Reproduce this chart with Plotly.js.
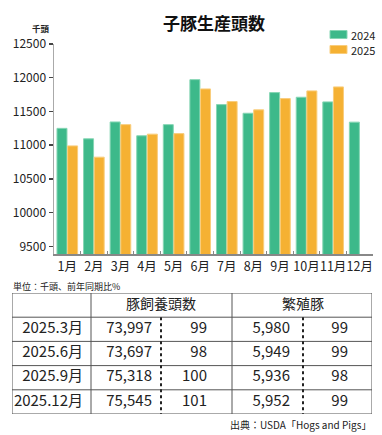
<!DOCTYPE html>
<html>
<head>
<meta charset="utf-8">
<script src="https://cdn.plot.ly/plotly-3.0.1.min.js"></script>
<style>
  html, body { margin: 0; padding: 0; background: #ffffff; }
  #chart { width: 382px; height: 435px; }
</style>
</head>
<body>
<div id="chart"></div>
<script>
// ---- Chart data ----
const months = ["1月","2月","3月","4月","5月","6月","7月","8月","9月","10月","11月","12月"];
const values2024 = [11250, 11095, 11345, 11140, 11305, 11972, 11602, 11474, 11780, 11711, 11642, 11342];
const values2025 = [10990, 10823, 11305, 11164, 11172, 11834, 11647, 11524, 11691, 11805, 11864, null];
const seriesNames = ["2024", "2025"];
const chartTitle = "子豚生産頭数";
const yUnit = "千頭";
const yTicks = [9500, 10000, 10500, 11000, 11500, 12000, 12500];

// ---- Table data ----
const tableNote = "単位：千頭、前年同期比%";
const tableHeaders = ["豚飼養頭数", "繁殖豚"];
const rowLabels = ["2025.3月", "2025.6月", "2025.9月", "2025.12月"];
const hogsTotal = ["73,997", "73,697", "75,318", "75,545"];
const hogsRatio = ["99", "98", "100", "101"];
const breedingTotal = ["5,980", "5,949", "5,936", "5,952"];
const breedingRatio = ["99", "99", "98", "99"];
const sourceNote = "出典：USDA「Hogs and Pigs」";

const FONT = '"Noto Sans CJK JP", "Noto Sans", sans-serif';
const GREEN = "#3db98a", GREEN_LINE = "#86d6b4";
const ORANGE = "#f5b133", ORANGE_LINE = "#f9cd7c";

const W = 382, H = 435;
const px = x => x / W;
const py = y => 1 - y / H;

// table geometry (x2 axis units = pixels across table; y2 = row index)
const colEdges = [0, 79, 149, 220, 291, 360];
const nRows = rowLabels.length + 1;

const traces = [
  { type: "bar", x: months, y: values2024, name: seriesNames[0],
    marker: { color: GREEN, line: { color: GREEN_LINE, width: 1 } },
    xaxis: "x", yaxis: "y", showlegend: false, hoverinfo: "skip" },
  { type: "bar", x: months, y: values2025, name: seriesNames[1],
    marker: { color: ORANGE, line: { color: ORANGE_LINE, width: 1 } },
    xaxis: "x", yaxis: "y", showlegend: false, hoverinfo: "skip" }
];

// table body text, right-aligned in each cell
const rightPad = [8, 9, 25, 13, 24];
const bx = [], by = [], bt = [];
rowLabels.forEach((lab, r) => {
  const cells = [lab, hogsTotal[r], hogsRatio[r], breedingTotal[r], breedingRatio[r]];
  cells.forEach((c, ci) => {
    bx.push(colEdges[ci + 1] - rightPad[ci]); by.push(r + 1.5); bt.push(c);
  });
});
traces.push({
  type: "scatter", mode: "text", x: bx, y: by, text: bt,
  textposition: "middle left",
  textfont: { family: FONT, size: 15, color: "#222" },
  xaxis: "x2", yaxis: "y2", showlegend: false, hoverinfo: "skip", cliponaxis: false
});
// table header text, centered across merged cells
traces.push({
  type: "scatter", mode: "text", x: [colEdges[2], colEdges[4]], y: [0.5, 0.5], text: tableHeaders,
  textposition: "middle center",
  textfont: { family: FONT, size: 14, color: "#222" },
  xaxis: "x2", yaxis: "y2", showlegend: false, hoverinfo: "skip", cliponaxis: false
});

const shapes = [];
const lineCol = "#555";
for (let r = 0; r <= nRows; r++) {
  shapes.push({ type: "line", xref: "x2", yref: "y2", x0: colEdges[0], x1: colEdges[5], y0: r, y1: r,
    line: { color: lineCol, width: 1 } });
}
[0, 1, 3, 5].forEach(ci => {
  shapes.push({ type: "line", xref: "x2", yref: "y2", x0: colEdges[ci], x1: colEdges[ci], y0: 0, y1: nRows,
    line: { color: lineCol, width: 1 } });
});
[2, 4].forEach(ci => {
  shapes.push({ type: "line", xref: "x2", yref: "y2", x0: colEdges[ci], x1: colEdges[ci], y0: 1, y1: nRows,
    line: { color: "#222", width: 2, dash: "dot" } });
});
// custom legend swatches
[[GREEN, GREEN_LINE, 34.5], [ORANGE, ORANGE_LINE, 49.5]].forEach(([c, l, y]) => {
  shapes.push({ type: "rect", xref: "paper", yref: "paper", x0: px(330), x1: px(347), y0: py(y - 4), y1: py(y + 4),
    fillcolor: c, line: { color: l, width: 1 } });
});

const annotations = [
  { text: yUnit, xref: "paper", yref: "paper", x: px(41), y: py(28), showarrow: false,
    font: { family: FONT, size: 8.5, color: "#222", weight: "bold" }, xanchor: "center", yanchor: "middle" },
  { text: seriesNames[0], xref: "paper", yref: "paper", x: px(349), y: py(34.5), showarrow: false,
    font: { family: FONT, size: 11, color: "#222" }, xanchor: "left", yanchor: "middle" },
  { text: seriesNames[1], xref: "paper", yref: "paper", x: px(349), y: py(49.5), showarrow: false,
    font: { family: FONT, size: 11, color: "#222" }, xanchor: "left", yanchor: "middle" },
  { text: tableNote, xref: "paper", yref: "paper", x: px(11), y: py(286), showarrow: false,
    font: { family: FONT, size: 9, color: "#222" }, xanchor: "left", yanchor: "middle" },
  { text: sourceNote, xref: "paper", yref: "paper", x: px(373), y: py(424), showarrow: false,
    font: { family: FONT, size: 10, color: "#222" }, xanchor: "right", yanchor: "middle" }
];

const layout = {
  width: W, height: H,
  margin: { l: 0, r: 0, t: 0, b: 0 },
  paper_bgcolor: "#ffffff", plot_bgcolor: "#ffffff",
  font: { family: FONT, color: "#222" },
  title: { text: chartTitle, x: px(214), y: py(24), xanchor: "center", yanchor: "middle",
    font: { family: FONT, size: 17, color: "#111", weight: "bold" } },
  barmode: "group", bargap: 0.2, bargroupgap: 0.06,
  xaxis: {
    domain: [px(54), px(373)], type: "category",
    showline: true, linecolor: "#888", linewidth: 1.5,
    ticks: "inside", tickson: "boundaries", ticklen: 3, tickcolor: "#888",
    tickangle: 0, automargin: false,
    tickfont: { family: FONT, size: 12.5, color: "#222" },
    showgrid: false, zeroline: false, fixedrange: true
  },
  yaxis: {
    domain: [py(254), py(44)], range: [9388, 12500],
    tickvals: yTicks, ticktext: yTicks.map(String),
    showline: true, linecolor: "#aaa", linewidth: 1.5,
    ticks: "outside", ticklen: 4, tickcolor: "#444", tickwidth: 1.5,
    tickfont: { family: FONT, size: 12, color: "#222" },
    showgrid: false, zeroline: false, fixedrange: true, automargin: false
  },
  xaxis2: { domain: [px(12), px(372)], range: [colEdges[0], colEdges[5]], visible: false, fixedrange: true },
  yaxis2: { domain: [py(414), py(293)], range: [nRows, 0], visible: false, fixedrange: true },
  shapes, annotations,
  showlegend: false
};

Plotly.newPlot("chart", traces, layout, { displayModeBar: false, staticPlot: true });
</script>
</body>
</html>
